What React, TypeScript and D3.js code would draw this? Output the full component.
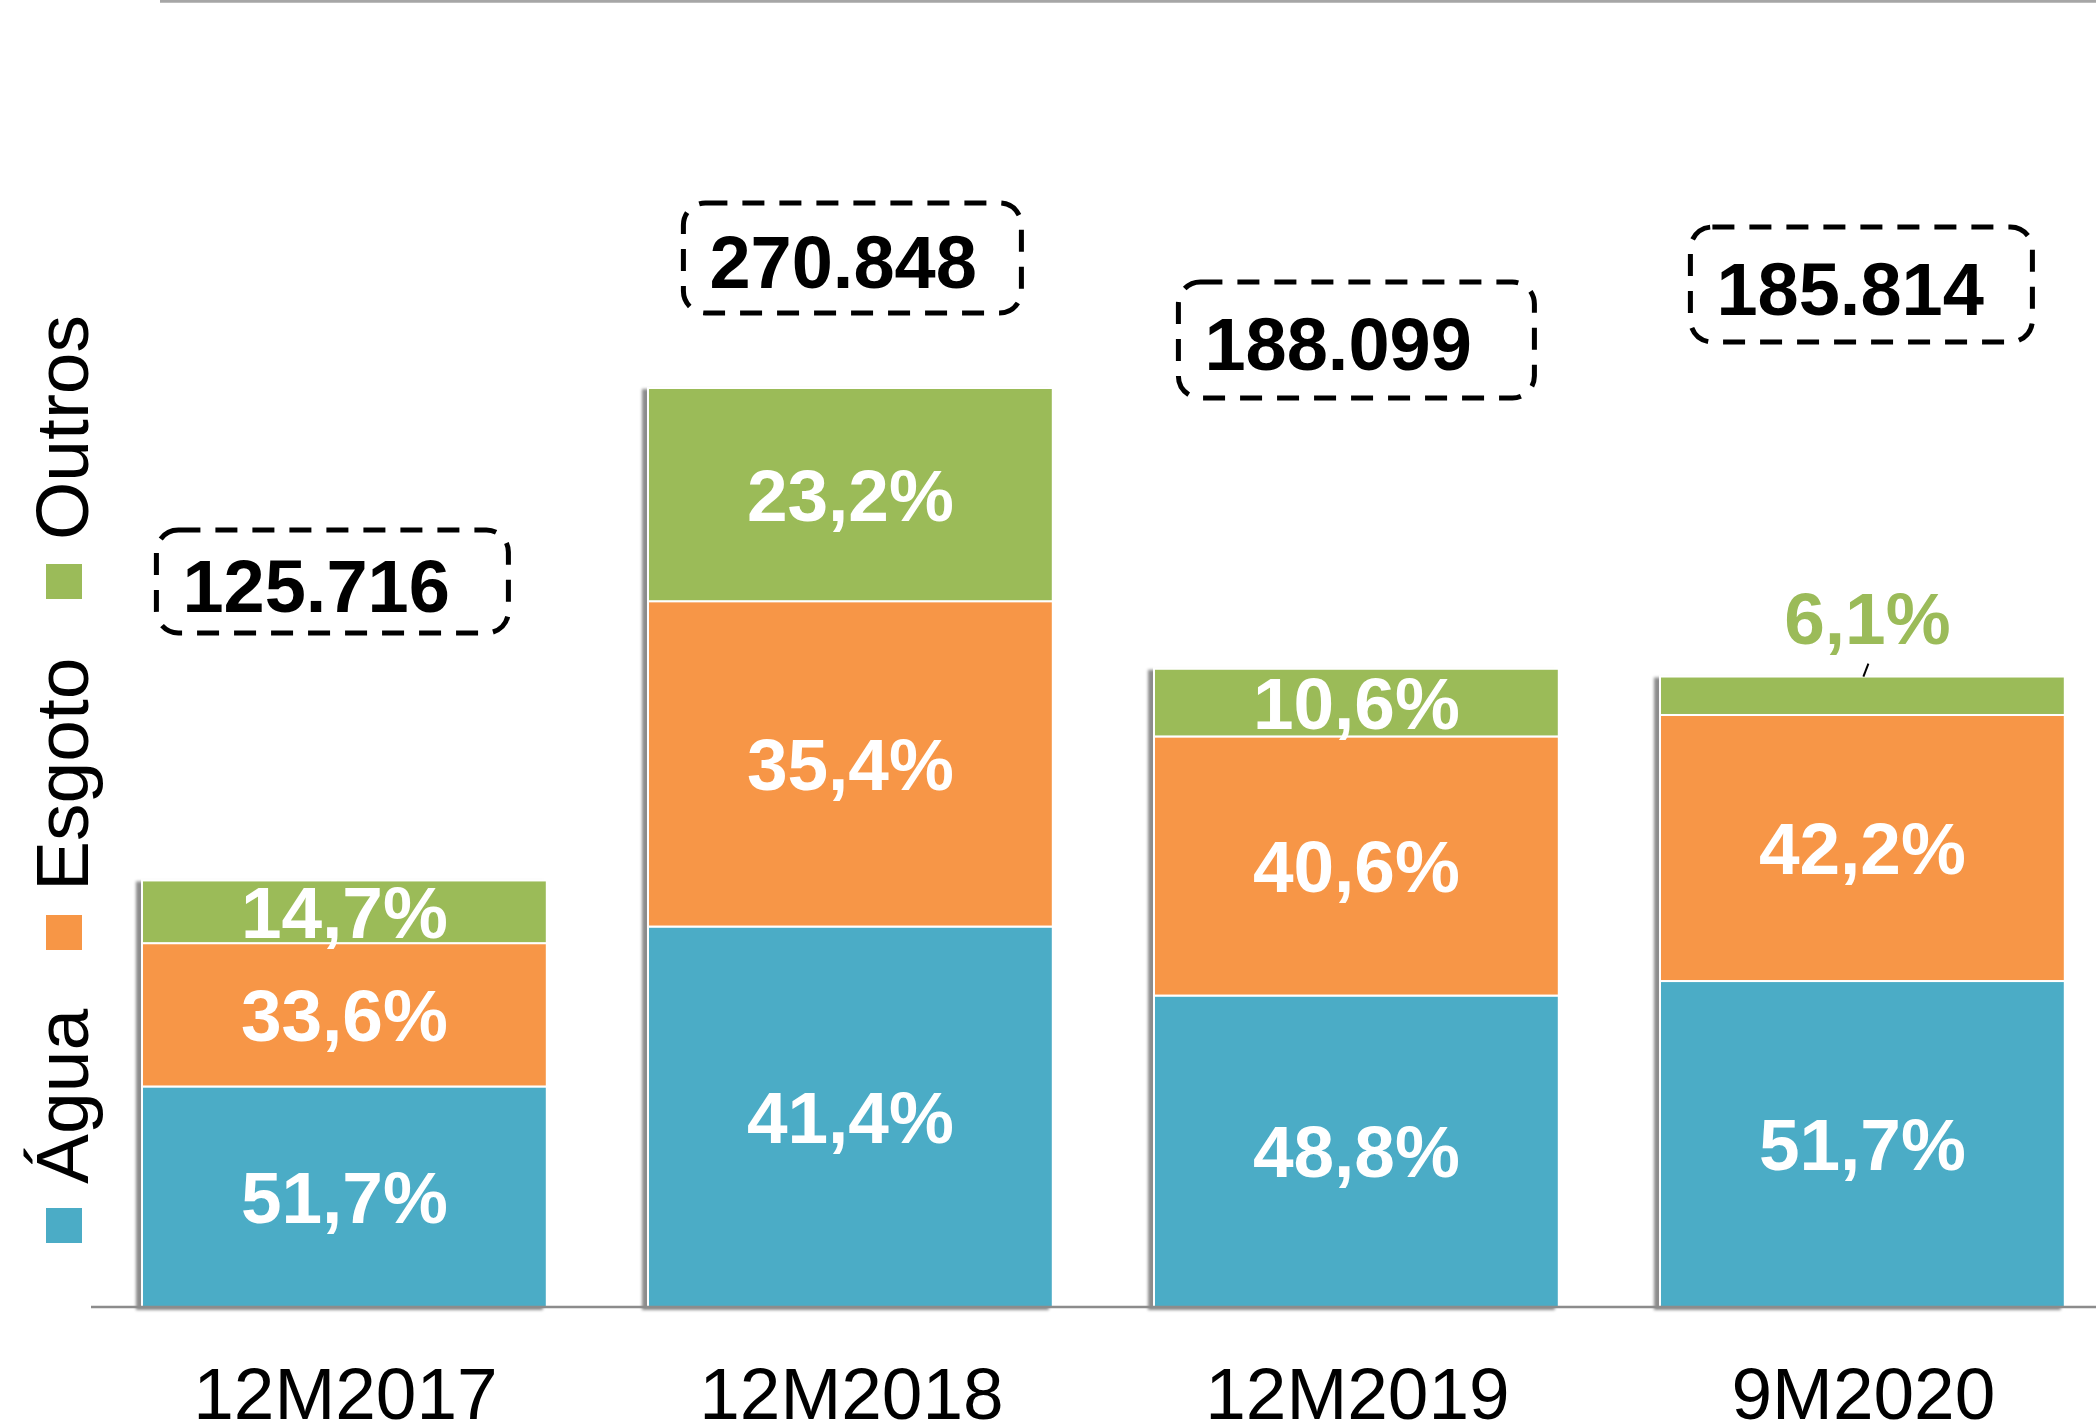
import React from "react";
import * as d3 from "d3";

// ---- data ----
const categories = ["12M2017", "12M2018", "12M2019", "9M2020"];
const totals = [125716, 270848, 188099, 185814];
const aguaShare = [51.7, 41.4, 48.8, 51.7];
const esgotoShare = [33.6, 35.4, 40.6, 42.2];
const outrosShare = [14.7, 23.2, 10.6, 6.1];
const seriesNames = ["Água", "Esgoto", "Outros"];
const seriesColors = ["#4BACC6", "#F79646", "#9BBB59"];

// ---- layout (annotation boxes placed manually in the original) ----
const boxLayout = [
  { dx: -12, top: 530, w: 352, h: 103 },
  { dx: 2, top: 203, w: 338, h: 110 },
  { dx: 0, top: 282, w: 356, h: 116 },
  { dx: -1, top: 227, w: 342, h: 115 },
];
const legendSquareTops = [1208, 915, 564];

const W = 2096;
const H = 1427;
const FONT = "'Liberation Sans', Arial, Helvetica, sans-serif";

const locale = d3.formatLocale({ decimal: ",", thousands: ".", grouping: [3], currency: ["R$", ""] });
const fmtTotal = locale.format(",d");
const fmtPct = locale.format(".1f");

export default function App() {
  const x = d3
    .scaleBand<string>()
    .domain(categories)
    .range([91.4, 2115.4])
    .paddingInner(0.2)
    .paddingOuter(0.1);
  const y = d3.scaleLinear().domain([0, 385.2]).range([1307, 0]);

  const rows = categories.map((c, i) => ({
    cat: c,
    total: totals[i] / 1000,
    shares: [aguaShare[i], esgotoShare[i], outrosShare[i]],
  }));

  const stackData = rows.map((r) => ({
    cat: r.cat,
    s0: (r.total * r.shares[0]) / 100,
    s1: (r.total * r.shares[1]) / 100,
    s2: (r.total * r.shares[2]) / 100,
  }));
  const stack = d3.stack<any>().keys(["s0", "s1", "s2"]);
  const layers = stack(stackData);

  const bw = x.bandwidth();

  return (
    <svg
      width={W}
      height={H}
      style={{ position: "absolute", left: 0, top: 0, background: "#fff" }}
      fontFamily={FONT}
    >
      <defs>
        <filter id="shadow" x="-10%" y="-10%" width="120%" height="120%">
          <feDropShadow dx={-5} dy={2} stdDeviation={1.6} floodColor="#000" floodOpacity={0.45} />
        </filter>
      </defs>
      <rect x={0} y={0} width={W} height={H} fill="#fff" />
      {/* top rule */}
      <line x1={160} x2={W} y1={1.2} y2={1.2} stroke="#A6A6A6" strokeWidth={3} />

      {/* bars */}
      {categories.map((c, i) => (
        <g key={c} filter="url(#shadow)">
          {layers.map((layer, k) => {
            const d = layer[i];
            return (
              <rect
                key={k}
                x={x(c)!}
                y={y(d[1])}
                width={bw}
                height={y(d[0]) - y(d[1])}
                fill={seriesColors[k]}
                stroke="#fff"
                strokeWidth={2}
              />
            );
          })}
        </g>
      ))}

      {/* segment labels */}
      {categories.map((c, i) =>
        layers.map((layer, k) => {
          const d = layer[i];
          const y0 = y(d[0]);
          const y1 = y(d[1]);
          const cx = x(c)! + bw / 2;
          const hSeg = y0 - y1;
          const txt = fmtPct(rows[i].shares[k]) + "%";
          if (hSeg < 50) {
            return (
              <g key={c + k}>
                <text
                  x={cx + 5}
                  y={y1 - 33}
                  textAnchor="middle"
                  fontSize={73}
                  fontWeight="bold"
                  fill={seriesColors[k]}
                >
                  {txt}
                </text>
                <line x1={cx + 6} y1={y1 - 13} x2={cx + 1} y2={y1} stroke="#000" strokeWidth={2} />
              </g>
            );
          }
          return (
            <text
              key={c + k}
              x={cx}
              y={(y0 + y1) / 2 + 26}
              textAnchor="middle"
              fontSize={73}
              fontWeight="bold"
              fill="#fff"
            >
              {txt}
            </text>
          );
        })
      )}

      {/* baseline */}
      <line x1={91} x2={W} y1={1307} y2={1307} stroke="#8C8C8C" strokeWidth={2.5} />

      {/* category labels */}
      {categories.map((c) => (
        <text
          key={c}
          x={x(c)! + bw / 2 + 1}
          y={1419}
          textAnchor="middle"
          fontSize={73}
          fill="#000"
        >
          {c}
        </text>
      ))}

      {/* total boxes */}
      {categories.map((c, i) => {
        const b = boxLayout[i];
        const cx = x(c)! + bw / 2 + b.dx;
        const left = cx - b.w / 2;
        return (
          <g key={c}>
            <rect
              x={left}
              y={b.top}
              width={b.w}
              height={b.h}
              rx={22}
              ry={22}
              fill="none"
              stroke="#000"
              strokeWidth={5}
              strokeDasharray="22 15"
            />
            <text x={left + 26} y={b.top + b.h / 2 + 30} fontSize={74} fontWeight="bold" fill="#000">
              {fmtTotal(totals[i])}
            </text>
          </g>
        );
      })}

      {/* legend (rotated) */}
      {seriesNames.map((n, k) => {
        const top = legendSquareTops[k];
        return (
          <g key={n}>
            <rect x={46} y={top} width={36} height={35} fill={seriesColors[k]} />
            <text
              transform={`translate(88, ${top - 24}) rotate(-90)`}
              fontSize={75}
              fill="#000"
            >
              {n}
            </text>
          </g>
        );
      })}
    </svg>
  );
}
